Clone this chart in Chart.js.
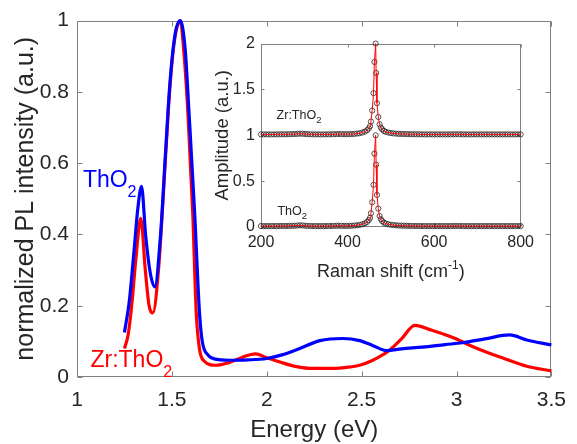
<!DOCTYPE html>
<html>
<head>
<meta charset="utf-8">
<script src="https://cdn.jsdelivr.net/npm/chart.js@4.4.1/dist/chart.umd.min.js"></script>
<style>
  html, body { margin: 0; padding: 0; background: #fff; }
  #wrap { position: relative; width: 577px; height: 444px; overflow: hidden; }
  #main { position: absolute; left: 0; top: 0; }
  #inset { position: absolute; left: 200px; top: 28px; }
</style>
</head>
<body>
<div id="wrap">
  <canvas id="main" width="577" height="444"></canvas>
  <canvas id="inset" width="340" height="262"></canvas>
</div>
<script>
const FONT = "'Liberation Sans', Arial, Helvetica, sans-serif";
const AXIS_GREY = "#808080";
const TEXT = "#262626";

// PL spectra
const thoEnergy = [1.25, 1.275, 1.30, 1.32, 1.34, 1.362, 1.388, 1.41, 1.44, 1.466, 1.49, 1.518, 1.544, 1.57, 1.591, 1.62, 1.645, 1.66, 1.69, 1.73, 1.8, 1.9, 2.0, 2.08, 2.16, 2.28, 2.4, 2.49, 2.56, 2.63, 2.71, 2.82, 2.94, 3.03, 3.15, 3.28, 3.37, 3.5];
const thoPL = [0.125, 0.21, 0.35, 0.47, 0.535, 0.396, 0.286, 0.253, 0.397, 0.625, 0.827, 0.965, 1.0, 0.92, 0.735, 0.46, 0.185, 0.1, 0.062, 0.05, 0.047, 0.048, 0.052, 0.062, 0.077, 0.102, 0.108, 0.102, 0.088, 0.074, 0.079, 0.084, 0.091, 0.096, 0.107, 0.118, 0.104, 0.09];
const zrEnergy = [1.25, 1.27, 1.29, 1.31, 1.336, 1.36, 1.38, 1.40, 1.43, 1.457, 1.483, 1.51, 1.544, 1.565, 1.585, 1.61, 1.628, 1.645, 1.67, 1.73, 1.8, 1.87, 1.94, 2.0, 2.07, 2.15, 2.25, 2.35, 2.42, 2.49, 2.55, 2.59, 2.64, 2.71, 2.78, 2.87, 2.99, 3.09, 3.17, 3.25, 3.37, 3.5];
const zrPL = [0.08, 0.12, 0.21, 0.33, 0.445, 0.30, 0.20, 0.18, 0.304, 0.53, 0.763, 0.93, 1.0, 0.9, 0.735, 0.46, 0.185, 0.08, 0.045, 0.033, 0.04, 0.055, 0.065, 0.054, 0.042, 0.03, 0.024, 0.024, 0.027, 0.033, 0.045, 0.056, 0.072, 0.107, 0.145, 0.131, 0.109, 0.084, 0.067, 0.052, 0.03, 0.017];
const energyTicks = [1, 1.5, 2, 2.5, 3, 3.5];
const plTicks = [0, 0.2, 0.4, 0.6, 0.8, 1];

// Raman inset
const ramanShift = [
  200, 206, 212, 218, 224, 230, 236, 242, 248, 254,
  260, 266, 272, 278, 284, 290, 296, 302, 308, 314,
  320, 326, 332, 338, 344, 350, 356, 362, 368, 374,
  380, 386, 392, 398, 404, 410, 416, 422, 428, 434,
  440,
  445, 449, 452, 454, 457, 460, 462, 465, 466, 468, 471, 474, 477, 480, 484, 488,
  494, 500, 506, 512, 518, 524, 530, 536, 542, 548,
  554, 560, 566, 572, 578, 584, 590, 596, 602, 608,
  614, 620, 626, 632, 638, 644, 650, 656, 662, 668,
  674, 680, 686, 692, 698, 704, 710, 716, 722, 728,
  734, 740, 746, 752, 758, 764, 770, 776, 782, 788,
  794, 800
];
const ramanAmp = [
  0.010, 0.010, 0.010, 0.010, 0.010, 0.010, 0.010, 0.011, 0.011, 0.011,
  0.011, 0.012, 0.013, 0.014, 0.016, 0.018, 0.017, 0.014, 0.012, 0.011,
  0.010, 0.010, 0.010, 0.010, 0.010, 0.010, 0.011, 0.011, 0.012, 0.013,
  0.014, 0.013, 0.012, 0.012, 0.013, 0.014, 0.016, 0.019, 0.023, 0.030,
  0.040,
  0.055, 0.075, 0.100, 0.150, 0.270, 0.460, 0.800, 1.000, 0.680, 0.350, 0.200, 0.120, 0.085, 0.065, 0.048, 0.038,
  0.030, 0.025, 0.021, 0.018, 0.016, 0.015, 0.014, 0.013, 0.012, 0.012,
  0.011, 0.011, 0.011, 0.010, 0.010, 0.010, 0.010, 0.010, 0.010, 0.010,
  0.010, 0.010, 0.010, 0.010, 0.010, 0.011, 0.011, 0.011, 0.011, 0.010,
  0.010, 0.010, 0.010, 0.010, 0.010, 0.010, 0.010, 0.010, 0.010, 0.010,
  0.010, 0.010, 0.010, 0.010, 0.010, 0.010, 0.010, 0.010, 0.010, 0.010,
  0.010, 0.010
];
const zrOffset = 1; // Zr:ThO2 trace is stacked one unit up
const ramanTicks = [200, 400, 600, 800];
const ampTicks = [0, 0.5, 1, 1.5, 2];

function pts(xs, ys, off) {
  return xs.map((x, i) => ({ x: x, y: ys[i] + (off || 0) }));
}

function fmt(v) {
  return String(Number(Number(v).toFixed(2)));
}

function useTicks(list) {
  return (s) => { s.ticks = list.map((v) => ({ value: v })); };
}

// matlab style box with inward ticks on all four sides
const boxTicks = {
  id: "boxTicks",
  beforeDatasetsDraw(chart, args, opts) {
    const { ctx, chartArea: a, scales } = chart;
    const len = opts.len || 5;
    const L = Math.round(a.left) + 0.5, R = Math.round(a.right) - 0.5;
    const T = Math.round(a.top) + 0.5, B = Math.round(a.bottom) - 0.5;
    ctx.save();
    ctx.strokeStyle = AXIS_GREY;
    ctx.lineWidth = 1;
    ctx.beginPath();
    scales.x.ticks.forEach((t) => {
      const px = Math.round(scales.x.getPixelForValue(t.value)) + 0.5;
      ctx.moveTo(px, B); ctx.lineTo(px, B - len);
      ctx.moveTo(px, T); ctx.lineTo(px, T + len);
    });
    scales.y.ticks.forEach((t) => {
      const py = Math.round(scales.y.getPixelForValue(t.value)) + 0.5;
      ctx.moveTo(L, py); ctx.lineTo(L + len, py);
      ctx.moveTo(R, py); ctx.lineTo(R - len, py);
    });
    ctx.stroke();
    ctx.strokeRect(L, T, R - L, B - T);
    ctx.restore();
  }
};

function subText(ctx, x, y, base, sub, size, subSize, drop, color) {
  ctx.fillStyle = color;
  ctx.textAlign = "left";
  ctx.textBaseline = "alphabetic";
  ctx.font = size + "px " + FONT;
  ctx.fillText(base, x, y);
  const w = ctx.measureText(base).width;
  ctx.font = subSize + "px " + FONT;
  ctx.fillText(sub, x + w, y + drop);
}

const mainLabels = {
  id: "mainLabels",
  afterDraw(chart) {
    const { ctx, scales } = chart;
    ctx.save();
    subText(ctx, scales.x.getPixelForValue(1.031), scales.y.getPixelForValue(0.533), "ThO", "2", 23, 16, 9.5, "#0000ff");
    subText(ctx, scales.x.getPixelForValue(1.071), scales.y.getPixelForValue(0.029), "Zr:ThO", "2", 23, 16, 10, "#ff0000");
    ctx.restore();
  }
};

const insetLabels = {
  id: "insetLabels",
  afterDraw(chart) {
    const { ctx, scales, chartArea: a } = chart;
    ctx.save();
    subText(ctx, scales.x.getPixelForValue(236), scales.y.getPixelForValue(1.18), "Zr:ThO", "2", 12.5, 9.5, 4, TEXT);
    subText(ctx, scales.x.getPixelForValue(238), scales.y.getPixelForValue(0.13), "ThO", "2", 12.5, 9.5, 4, TEXT);
    // x title with superscript
    const base = "Raman shift (cm", sup = "-1", end = ")";
    ctx.fillStyle = TEXT;
    ctx.textBaseline = "alphabetic";
    ctx.textAlign = "left";
    ctx.font = "18px " + FONT;
    const w1 = ctx.measureText(base).width, w3 = ctx.measureText(end).width;
    ctx.font = "12px " + FONT;
    const w2 = ctx.measureText(sup).width;
    let x = (a.left + a.right) / 2 - (w1 + w2 + w3) / 2;
    const y = a.bottom + 50;
    ctx.font = "18px " + FONT;
    ctx.fillText(base, x, y);
    ctx.font = "12px " + FONT;
    ctx.fillText(sup, x + w1, y - 8);
    ctx.font = "18px " + FONT;
    ctx.fillText(end, x + w1 + w2, y);
    ctx.restore();
  }
};

new Chart(document.getElementById("main"), {
  type: "scatter",
  data: {
    datasets: [
      { label: "ThO2", data: pts(thoEnergy, thoPL), showLine: true, borderColor: "#0000ff", borderWidth: 3.2, pointRadius: 0, cubicInterpolationMode: "monotone", clip: false },
      { label: "Zr:ThO2", data: pts(zrEnergy, zrPL), showLine: true, borderColor: "#ff0000", borderWidth: 3.2, pointRadius: 0, cubicInterpolationMode: "monotone", clip: false }
    ]
  },
  options: {
    responsive: false,
    animation: false,
    layout: { padding: { top: 14, right: 19, left: 0, bottom: 0 } },
    plugins: { legend: { display: false }, tooltip: { enabled: false }, boxTicks: { len: 5 } },
    scales: {
      x: {
        type: "linear", min: 1, max: 3.5,
        afterBuildTicks: useTicks(energyTicks),
        afterFit: (s) => { s.height = 67; },
        grid: { display: false, drawTicks: false }, border: { display: false },
        ticks: { callback: fmt, padding: 11, color: TEXT, font: { family: FONT, size: 21 }, maxRotation: 0, autoSkip: false },
        title: { display: true, text: "Energy (eV)", color: TEXT, font: { family: FONT, size: 24, lineHeight: 1.1 }, padding: { top: 0, bottom: 0 } }
      },
      y: {
        type: "linear", min: 0, max: 1,
        afterBuildTicks: useTicks(plTicks),
        afterFit: (s) => { s.width = 77; },
        grid: { display: false, drawTicks: false }, border: { display: false },
        ticks: { callback: fmt, padding: 8, color: TEXT, font: { family: FONT, size: 21 }, autoSkip: false },
        title: { display: true, text: "normalized PL intensity (a.u.)", color: TEXT, font: { family: FONT, size: 25, lineHeight: 1.1 }, padding: { top: 12, bottom: 0 } }
      }
    }
  },
  plugins: [boxTicks, mainLabels]
});

new Chart(document.getElementById("inset"), {
  type: "scatter",
  data: {
    datasets: [
      { label: "fit Zr:ThO2", data: pts(ramanShift, ramanAmp, zrOffset), showLine: true, borderColor: "#ff0000", borderWidth: 1, pointRadius: 0, clip: false },
      { label: "fit ThO2", data: pts(ramanShift, ramanAmp), showLine: true, borderColor: "#ff0000", borderWidth: 1, pointRadius: 0, clip: false },
      { label: "Zr:ThO2", data: pts(ramanShift, ramanAmp, zrOffset), showLine: false, pointRadius: 2.6, pointBorderWidth: 0.9, pointBorderColor: "rgba(30,30,30,0.85)", pointBackgroundColor: "rgba(0,0,0,0)", clip: false },
      { label: "ThO2", data: pts(ramanShift, ramanAmp), showLine: false, pointRadius: 2.6, pointBorderWidth: 0.9, pointBorderColor: "rgba(30,30,30,0.85)", pointBackgroundColor: "rgba(0,0,0,0)", clip: false }
    ]
  },
  options: {
    responsive: false,
    animation: false,
    layout: { padding: { top: 13, right: 19, left: 0, bottom: 0 } },
    plugins: { legend: { display: false }, tooltip: { enabled: false }, boxTicks: { len: 3 } },
    scales: {
      x: {
        type: "linear", min: 200, max: 800,
        afterBuildTicks: useTicks(ramanTicks),
        afterFit: (s) => { s.height = 63; },
        grid: { display: false, drawTicks: false }, border: { display: false },
        ticks: { callback: fmt, padding: 6, color: TEXT, font: { family: FONT, size: 16 }, maxRotation: 0, autoSkip: false }
      },
      y: {
        type: "linear", min: 0, max: 2,
        afterBuildTicks: useTicks(ampTicks),
        afterFit: (s) => { s.width = 61; },
        grid: { display: false, drawTicks: false }, border: { display: false },
        ticks: { callback: fmt, padding: 6, color: TEXT, font: { family: FONT, size: 16 }, autoSkip: false },
        title: { display: true, text: "Amplitude (a.u.)", color: TEXT, font: { family: FONT, size: 18.5, lineHeight: 1.1 }, padding: { top: 13, bottom: 0 } }
      }
    }
  },
  plugins: [boxTicks, insetLabels]
});
</script>
</body>
</html>
